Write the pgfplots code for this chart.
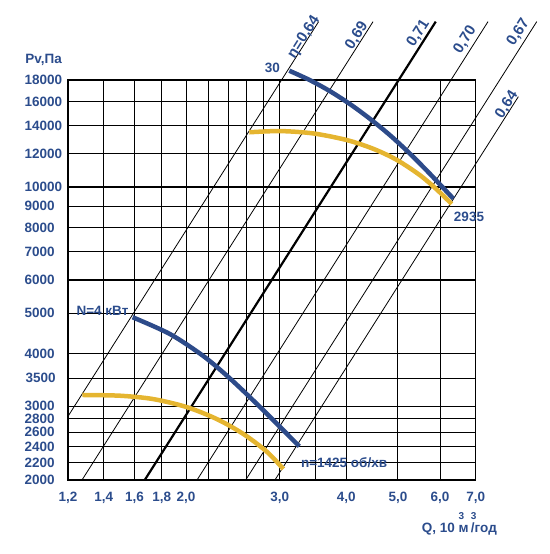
\documentclass[border=0pt]{standalone}
\usepackage{pgfplots}
\pgfplotsset{compat=1.18}
\usepackage{fontspec}
\setmainfont{Liberation Sans}
\definecolor{tblue}{HTML}{2B4C8C}
\definecolor{cblue}{HTML}{2D4B8A}
\definecolor{cyel}{HTML}{E5B530}
\begin{document}
\begin{tikzpicture}
\useasboundingbox (-68pt,-74pt) rectangle (481pt,480pt);
\begin{axis}[
 scale only axis, width=407.7pt, height=400pt,
 xmode=log, ymode=log,
 xmin=1.2, xmax=7, ymin=2000, ymax=18000,
 clip=false,
 xtick={1.2,1.4,1.6,1.8,2.0,2.2,2.4,2.6,2.8,3.0,3.5,4.0,5.0,6.0,7.0},
 xticklabels={{1,2},{1,4},{1,6},{1,8},{2,0},,,,,{3,0},,{4,0},{5,0},{6,0},{7,0}},
 ytick={2000,2200,2400,2600,2800,3000,3500,4000,5000,6000,7000,8000,9000,10000,12000,14000,16000,18000},
 yticklabels={},
 grid=major, major grid style={black, line width=1.1pt},
 axis line style={black, line width=1.1pt},
 major tick length=0pt,
 xticklabel style={font=\fontsize{13.5}{14}\selectfont\bfseries, text=tblue, inner sep=0pt, anchor=base, yshift=-22pt},
]
% efficiency lines
\addplot[black, line width=0.8pt] coordinates {(1.2,2837) (3.548,24800)};
\addplot[black, line width=0.8pt] coordinates {(1.275,2000) (4.49,24800)};
\addplot[black, line width=2.2pt] coordinates {(1.6725,2000) (5.889,24800)};
\addplot[black, line width=0.8pt] coordinates {(2.097,2000) (7.383,24800)};
\addplot[black, line width=0.8pt] coordinates {(2.588,2000) (9.115,24800)};
\addplot[black, line width=0.8pt] coordinates {(2.937,2000) (8.418,16425)};
% curves
\addplot[cblue, line width=4.5pt, smooth] coordinates {(3.126,18940) (3.418,17980) (3.727,16925) (4.064,15765) (4.431,14540) (4.832,13285) (5.268,12005) (5.744,10745) (6.353,9380)};
\addplot[cyel, line width=4.5pt, smooth] coordinates {(2.629,13505) (3.003,13595) (3.467,13420) (4.008,12940) (4.496,12330) (4.974,11605) (5.502,10665) (5.914,9863) (6.31,9108)};
\addplot[cblue, line width=4.5pt, smooth] coordinates {(1.587,4889) (1.866,4457) (2.155,3951) (2.418,3493) (2.754,2986) (3.046,2628) (3.264,2406)};
\addplot[cyel, line width=4.5pt, smooth] coordinates {(1.277,3190) (1.503,3177) (1.735,3119) (2.005,2985) (2.284,2795) (2.562,2575) (2.835,2337) (3.046,2124)};
% y tick labels
\begin{scope}[every node/.style={text=tblue, font=\fontsize{13.5}{14}\selectfont\bfseries, inner sep=0pt, anchor=west, text width=40pt, align=left}]
\node at ([xshift=-43.5pt]axis cs:1.2,2000) {2000};
\node at ([xshift=-43.5pt]axis cs:1.2,2200) {2200};
\node at ([xshift=-43.5pt]axis cs:1.2,2400) {2400};
\node at ([xshift=-43.5pt]axis cs:1.2,2600) {2600};
\node at ([xshift=-43.5pt]axis cs:1.2,2800) {2800};
\node at ([xshift=-43.5pt]axis cs:1.2,3000) {3000};
\node at ([xshift=-42.5pt]axis cs:1.2,3500) {3500};
\node at ([xshift=-43.5pt]axis cs:1.2,4000) {4000};
\node at ([xshift=-43.5pt]axis cs:1.2,5000) {5000};
\node at ([xshift=-43.5pt]axis cs:1.2,6000) {6000};
\node at ([xshift=-43.5pt]axis cs:1.2,7000) {7000};
\node at ([xshift=-43.5pt]axis cs:1.2,8000) {8000};
\node at ([xshift=-43.5pt]axis cs:1.2,9000) {9000};
\node at ([xshift=-43.5pt]axis cs:1.2,10000) {10000};
\node at ([xshift=-43.5pt]axis cs:1.2,12000) {12000};
\node at ([xshift=-43.5pt]axis cs:1.2,14000) {14000};
\node at ([xshift=-43.5pt]axis cs:1.2,16000) {16000};
\node at ([xshift=-43.5pt]axis cs:1.2,18000) {18000};
\end{scope}
% labels
\begin{scope}[every node/.style={text=tblue, font=\fontsize{15}{15}\selectfont\bfseries, rotate=57.6, inner sep=0pt}]
\node at (axis cs:3.331,22760) {η=0,64};
\node at (axis cs:4.184,22960) {0,69};
\node at (axis cs:5.461,23260) {0,71};
\node at (axis cs:6.683,22420) {0,70};
\node at (axis cs:8.418,23390) {0,67};
\node at (axis cs:8.007,15690) {0,64};
\end{scope}
\begin{scope}[every node/.style={text=tblue, font=\fontsize{13.5}{14}\selectfont\bfseries, inner sep=0pt}]
\node at (axis cs:2.904,19190) {30};
\node at (axis cs:6.8,8494) {2935};
\node at (axis cs:1.393,5070) {N=4 кВт};
\node at (axis cs:3.961,2199) {n=1425 об/хв};
\node at (axis cs:1.080,20090) {Pv,Па};
\node[anchor=base west] at (axis cs:5.543,1495) {Q, 10 \rlap{\raisebox{13.5pt}{\fontsize{10}{10}\selectfont 3}}м\,\rlap{\raisebox{13.5pt}{\fontsize{10}{10}\selectfont 3}}/год};
\end{scope}
\end{axis}
\end{tikzpicture}
\end{document}
